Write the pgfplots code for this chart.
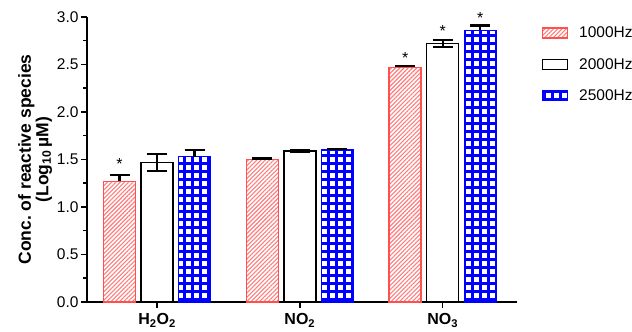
\documentclass[border=0pt]{standalone}
\usepackage{pgfplots}
\pgfplotsset{compat=1.18}
\usepackage{fontspec}
\setmainfont{Liberation Sans}
\usetikzlibrary{patterns.meta}
\definecolor{myred}{RGB}{255,80,80}
\begin{document}
\frenchspacing
\begin{tikzpicture}
\begin{axis}[
  scale only axis,
  width=430pt, height=285pt,
  xmin=-0.49, xmax=2.52,
  ymin=0, ymax=3,
  clip=false,
  axis lines=left,
  axis line style={line width=1.5pt, -},
  axis x line*=bottom,
  axis y line*=left,
  xtick={0,1,2},
  xticklabels={\textbf{H\textsubscript{2}O\textsubscript{2}},\textbf{NO\textsubscript{2}},\textbf{NO\textsubscript{3}}},
  ytick={0,0.5,...,3.0},
  minor ytick={0.25,0.75,...,2.75},
  tick style={line width=1.5pt, black},
  major tick length=6pt, minor tick length=4pt,
  tick align=outside,
  xtick pos=bottom, ytick pos=left,
  /pgf/number format/assume math mode=true,
  /pgf/number format/.cd, fixed, fixed zerofill, precision=1, /pgfplots/.cd,
  ticklabel style={font=\fontsize{15.5}{17}\selectfont},
  xticklabel style={yshift=-2pt, font=\fontsize{16}{17}\selectfont},
  yticklabel style={xshift=1pt},
  ylabel={\textbf{Conc. of reactive species}\\\textbf{(Log\textsubscript{10}\,µM)}},
  ylabel style={align=center, font=\fontsize{17.5}{17.5}\selectfont, yshift=-2pt},
  ybar, bar width=32pt,
  error bars/error bar style={line width=2.2pt, black},
  error bars/error mark options={rotate=90, mark size=10pt, line width=2.2pt, black},
  legend image code/.code={\draw[#1] (0pt,-5pt) rectangle (25pt,5pt);},
  legend style={at={(1.05,0.98)}, anchor=north west, draw=none, fill=none,
    font=\fontsize{15.5}{17}\selectfont, row sep=15pt,
    /tikz/every odd column/.append style={column sep=9pt}},
  legend cell align=left,
]
\addplot+[bar shift=-37.5pt, draw=myred, line width=1.5pt, fill=white,
  postaction={pattern={Lines[angle=45,distance=3pt,line width=1.1pt]}, pattern color=myred!75},
  error bars/.cd, y dir=plus, y explicit]
  coordinates {(0,1.27) +- (0,0.07) (1,1.50) +- (0,0.01) (2,2.47) +- (0,0.015)};
\addplot+[bar shift=0pt, draw=black, line width=1.5pt, fill=white,
  error bars/.cd, y dir=both, y explicit]
  coordinates {(0,1.47) +- (0,0.09) (1,1.59) +- (0,0.005) (2,2.72) +- (0,0.04)};
\addplot+[bar shift=37.5pt, draw=blue, line width=1.2pt, fill=white,
  postaction={pattern={Hatch[angle=0,distance=8pt,line width=3pt]}, pattern color=blue},
  error bars/.cd, y dir=plus, y explicit]
  coordinates {(0,1.53) +- (0,0.07) (1,1.60) +- (0,0.01) (2,2.86) +- (0,0.05)};
\legend{1000Hz,2000Hz,2500Hz}
\node[anchor=base, font=\fontsize{16}{17}\selectfont, inner sep=0pt] at (axis cs:-0.262,1.39) {*};
\node[anchor=base, font=\fontsize{16}{17}\selectfont, inner sep=0pt] at (axis cs:1.738,2.51) {*};
\node[anchor=base, font=\fontsize{16}{17}\selectfont, inner sep=0pt] at (axis cs:2,2.79) {*};
\node[anchor=base, font=\fontsize{16}{17}\selectfont, inner sep=0pt] at (axis cs:2.262,2.935) {*};
\end{axis}
\pgfresetboundingbox
\path (-87pt,-30pt) rectangle (545pt,302pt);
\end{tikzpicture}
\end{document}
